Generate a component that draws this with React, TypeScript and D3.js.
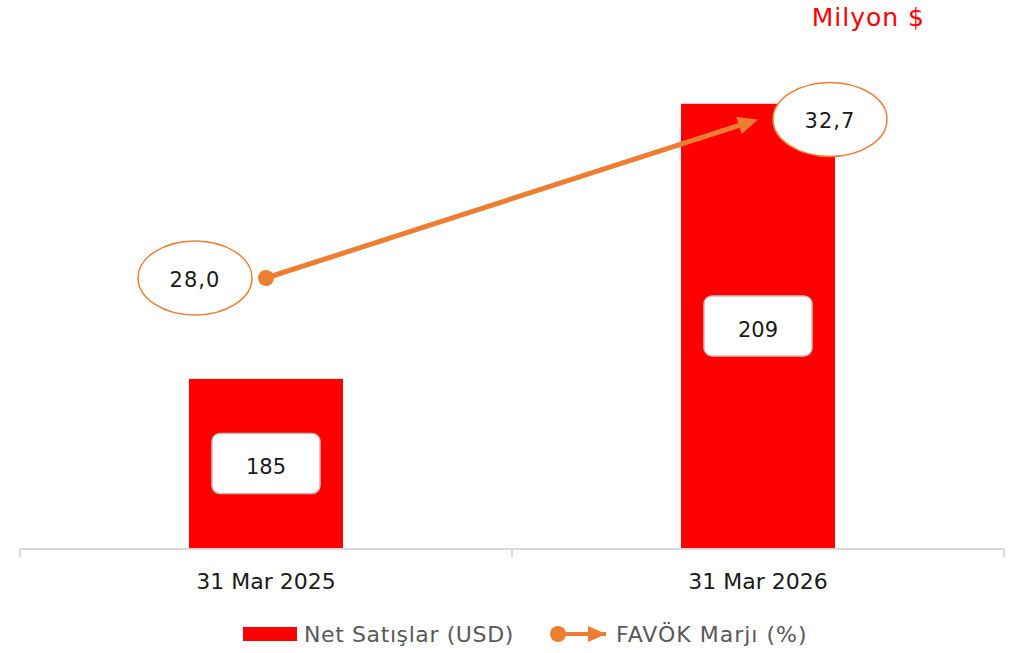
import React from "react";
import * as d3 from "d3";

const categories = ["31 Mar 2025", "31 Mar 2026"];
const netSales = [185, 209];
const ebitdaMargin = [28.0, 32.7];
const netSalesLabels = ["185", "209"];
const marginLabels = ["28,0", "32,7"];
const seriesNames = ["Net Satışlar (USD)", "FAVÖK Marjı (%)"];
const unitLabel = "Milyon $";

const W = 1028;
const H = 653;
const FONT = "'DejaVu Sans', sans-serif";
const ORANGE = "#ED7D31";
const RED = "#FF0000";

export default function App() {
  const x = d3.scaleBand<string>().domain(categories).range([20, 1004]).paddingInner(0).paddingOuter(0);
  const y = d3.scaleLinear().domain([170.25, 215]).range([548, 35]);
  const y2 = d3.scaleLinear().domain([20, 35.2]).range([548, 35]);
  const barW = 154;
  const cx = (c: string) => (x(c) as number) + x.bandwidth() / 2;

  const p0 = [cx(categories[0]), y2(ebitdaMargin[0])];
  const p1 = [cx(categories[1]), y2(ebitdaMargin[1])];
  const line = d3.line<number[]>().x((d) => d[0]).y((d) => d[1]);
  const ang = Math.atan2(p1[1] - p0[1], p1[0] - p0[0]);
  const headLen = 20;
  const headHalf = 9;
  const base = [p1[0] - Math.cos(ang) * headLen, p1[1] - Math.sin(ang) * headLen];
  const lineEnd = [p1[0] - Math.cos(ang) * (headLen - 2), p1[1] - Math.sin(ang) * (headLen - 2)];
  const nx = -Math.sin(ang), ny = Math.cos(ang);
  const head = [
    [p1[0], p1[1]],
    [base[0] + nx * headHalf, base[1] + ny * headHalf],
    [base[0] - nx * headHalf, base[1] - ny * headHalf],
  ];

  const ellipseOffsets = [-71, 72];
  const ticks = [20, 512, 1004];

  return (
    <svg width={W} height={H} style={{ position: "absolute", left: 0, top: 0 }} fontFamily={FONT}>
      <defs>
        <marker id="arrowLeg" markerUnits="userSpaceOnUse" markerWidth={22} markerHeight={18} refX={18} refY={8} orient="auto">
          <path d="M0,0 L18,8 L0,16 Z" fill={ORANGE} />
        </marker>
      </defs>
      <text x={925} y={26} textAnchor="end" fontSize={25} letterSpacing={1} fill={RED}>{unitLabel}</text>

      {categories.map((c, i) => {
        const top = y(netSales[i]);
        const bx = cx(c) - barW / 2;
        return (
          <rect key={c} x={bx} y={top} width={barW} height={548 - top} fill={RED} />
        );
      })}

      <line x1={20} x2={1004} y1={549} y2={549} stroke="#d9d9d9" strokeWidth={2} />
      {ticks.map((t) => (
        <line key={t} x1={t} x2={t} y1={549} y2={557} stroke="#d9d9d9" strokeWidth={2} />
      ))}
      {categories.map((c) => (
        <text key={c} x={cx(c)} y={589} textAnchor="middle" fontSize={22} fill="#1a1a1a">{c}</text>
      ))}

      {categories.map((c, i) => {
        const top = y(netSales[i]);
        const my = (top + 548) / 2;
        return (
          <g key={"lbl" + c}>
            <rect x={cx(c) - 54} y={my - 30} width={108} height={60} rx={8} fill="#fff" stroke="#bfbfbf" strokeWidth={1.5} />
            <text x={cx(c)} y={my + 11} textAnchor="middle" fontSize={21} fill="#1a1a1a">{netSalesLabels[i]}</text>
          </g>
        );
      })}

      <path d={line([p0, lineEnd]) || ""} stroke={ORANGE} strokeWidth={5} fill="none" />
      <polygon points={head.map((p) => p.join(",")).join(" ")} fill={ORANGE} />
      <circle cx={p0[0]} cy={p0[1]} r={8} fill={ORANGE} />

      {categories.map((c, i) => {
        const ex = cx(c) + ellipseOffsets[i];
        const ey = y2(ebitdaMargin[i]);
        return (
          <g key={"el" + c}>
            <ellipse cx={ex} cy={ey} rx={57} ry={37} fill="#fff" stroke={ORANGE} strokeWidth={1.5} />
            <text x={ex} y={ey + 9} textAnchor="middle" fontSize={21} letterSpacing={1} fill="#1a1a1a">{marginLabels[i]}</text>
          </g>
        );
      })}

      <rect x={243} y={627} width={54} height={14} fill={RED} />
      <text x={304} y={642} fontSize={22} letterSpacing={0.6} fill="#595959">{seriesNames[0]}</text>
      <line x1={558} y1={634} x2={606} y2={634} stroke={ORANGE} strokeWidth={4} markerEnd="url(#arrowLeg)" />
      <circle cx={558} cy={634} r={8} fill={ORANGE} />
      <text x={616} y={642} fontSize={22} letterSpacing={1} fill="#595959">{seriesNames[1]}</text>
    </svg>
  );
}
